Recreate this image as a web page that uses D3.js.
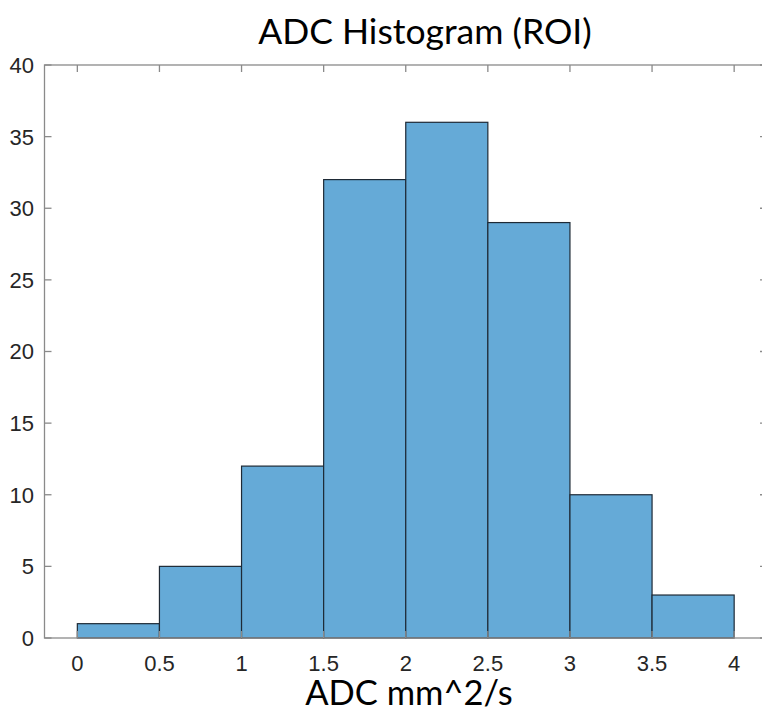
<!DOCTYPE html>
<html>
<head>
<meta charset="utf-8">
<script src="https://cdn.jsdelivr.net/npm/d3@7"></script>
<style>
  html, body { margin: 0; padding: 0; background: #fff; }
  svg { display: block; }
</style>
</head>
<body>
<svg id="chart" width="762" height="713"></svg>
<script>
// Histogram bin edges and counts
const binEdges = [0, 0.5, 1, 1.5, 2, 2.5, 3, 3.5, 4];
const counts = [1, 5, 12, 32, 36, 29, 10, 3];
const xTicks = [0, 0.5, 1, 1.5, 2, 2.5, 3, 3.5, 4];
const yTicks = [0, 5, 10, 15, 20, 25, 30, 35, 40];
const titleText = "ADC Histogram (ROI)";
const xLabelText = "ADC mm^2/s";

const svg = d3.select("#chart");
const plotLeft = 44.5, plotRight = 767, plotTop = 65, plotBottom = 638;

const x = d3.scaleLinear().domain([-0.2, 4.2]).range([plotLeft, plotRight]);
const y = d3.scaleLinear().domain([0, 40]).range([plotBottom, plotTop]);

const bins = counts.map((c, i) => ({ x0: binEdges[i], x1: binEdges[i + 1], c }));

// Bars
svg.append("g").selectAll("rect").data(bins).join("rect")
  .attr("x", d => x(d.x0))
  .attr("y", d => y(d.c))
  .attr("width", d => x(d.x1) - x(d.x0))
  .attr("height", d => y(0) - y(d.c))
  .attr("fill", "#65aad7")
  .attr("stroke", "#1e2a36")
  .attr("stroke-width", 1.2);

const axisColor = "#8a8a8a";
const tickLen = 7;
const tickFont = "Liberation Sans, Arial, sans-serif";

// Box
svg.append("rect")
  .attr("x", plotLeft).attr("y", plotTop)
  .attr("width", plotRight - plotLeft).attr("height", plotBottom - plotTop)
  .attr("fill", "none").attr("stroke", axisColor).attr("stroke-width", 1.3);

// X ticks (bottom and top, inward)
const xg = svg.append("g");
xTicks.forEach(t => {
  xg.append("line").attr("x1", x(t)).attr("x2", x(t)).attr("y1", plotBottom).attr("y2", plotBottom - tickLen)
    .attr("stroke", axisColor).attr("stroke-width", 1.3);
  xg.append("line").attr("x1", x(t)).attr("x2", x(t)).attr("y1", plotTop).attr("y2", plotTop + tickLen)
    .attr("stroke", axisColor).attr("stroke-width", 1.3);
  xg.append("text").attr("x", x(t)).attr("y", 670.5)
    .attr("text-anchor", "middle")
    .attr("font-family", tickFont)
    .attr("font-size", 22).attr("fill", "#262626")
    .text(d3.format("~g")(t));
});

// Y ticks (left and right, inward)
const yg = svg.append("g");
yTicks.forEach(t => {
  yg.append("line").attr("x1", plotLeft).attr("x2", plotLeft + tickLen).attr("y1", y(t)).attr("y2", y(t))
    .attr("stroke", axisColor).attr("stroke-width", 1.3);
  yg.append("line").attr("x1", plotRight).attr("x2", plotRight - tickLen).attr("y1", y(t)).attr("y2", y(t))
    .attr("stroke", axisColor).attr("stroke-width", 1.3);
  yg.append("text").attr("x", 34).attr("y", y(t) + 7.9)
    .attr("text-anchor", "end")
    .attr("font-family", tickFont)
    .attr("font-size", 22).attr("fill", "#262626")
    .text(t);
});

// Title
svg.append("text").attr("x", 425).attr("y", 43.5)
  .attr("text-anchor", "middle")
  .attr("font-family", "Lato, sans-serif")
  .attr("font-size", 35.5).attr("fill", "#000")
  .text(titleText);

// X axis label
svg.append("text").attr("x", 409).attr("y", 705)
  .attr("text-anchor", "middle")
  .attr("font-family", "Lato, sans-serif")
  .attr("font-size", 34.5).attr("fill", "#000")
  .text(xLabelText);
</script>
</body>
</html>
